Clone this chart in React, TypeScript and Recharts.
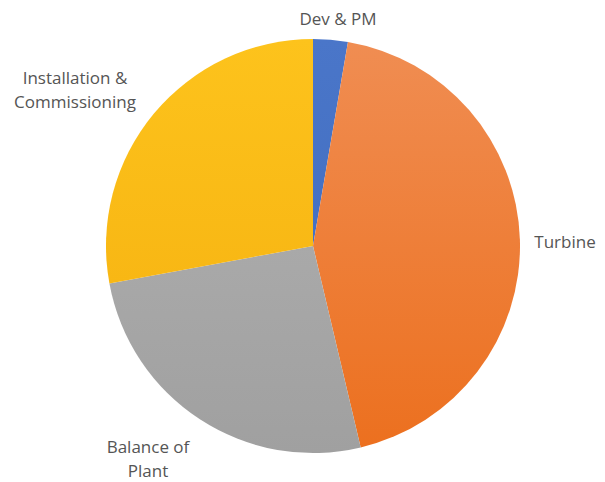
import { PieChart, Pie, Cell } from "recharts";

const categories = ["Dev & PM", "Turbine", "Balance of Plant", "Installation & Commissioning"];
const shares = [2.7, 43.6, 25.8, 27.9];
const labelLines = [["Dev & PM"], ["Turbine"], ["Balance of", "Plant"], ["Installation &", "Commissioning"]];

const colorsTop = ["#4a76c9", "#f08d52", "#a9a9a9", "#fdc31c"];
const colorsBottom = ["#4470c2", "#ec701f", "#a0a0a0", "#f8b714"];

// label anchor offsets from pie centre
const labelOffsets = [
  [25, -228],
  [252, -5],
  [-165, 212],
  [-238, -157],
];

const data = categories.map((name, i) => ({ name, value: shares[i] }));

const renderLabel = (props: any) => {
  const { cx, cy, index } = props;
  const [dx, dy] = labelOffsets[index];
  const lines = labelLines[index];
  const lh = 24;
  const y0 = cy + dy - ((lines.length - 1) * lh) / 2;
  return (
    <text
      x={cx + dx}
      y={y0}
      textAnchor="middle"
      dominantBaseline="central"
      fill="#555555"
      fontSize={17}
      fontFamily="'Open Sans', sans-serif"
    >
      {lines.map((l, i) => (
        <tspan key={i} x={cx + dx} y={y0 + i * lh}>
          {l}
        </tspan>
      ))}
    </text>
  );
};

export default function App() {
  return (
    <div style={{ position: "absolute", left: 0, top: 0, background: "#fff" }}>
      <PieChart width={605} height={482} margin={{ top: 0, right: 0, bottom: 0, left: 0 }}>
        <defs>
          {colorsTop.map((c, i) => (
            <linearGradient key={i} id={`g${i}`} x1="0" y1="0" x2="0" y2="1">
              <stop offset="0%" stopColor={c} />
              <stop offset="100%" stopColor={colorsBottom[i]} />
            </linearGradient>
          ))}
        </defs>
        <Pie
          data={data}
          dataKey="value"
          nameKey="name"
          cx={313}
          cy={246}
          outerRadius={207}
          startAngle={90}
          endAngle={-270}
          stroke="none"
          label={renderLabel}
          labelLine={false}
          isAnimationActive={false}
        >
          {data.map((d, i) => (
            <Cell key={d.name} fill={`url(#g${i})`} />
          ))}
        </Pie>
      </PieChart>
    </div>
  );
}
